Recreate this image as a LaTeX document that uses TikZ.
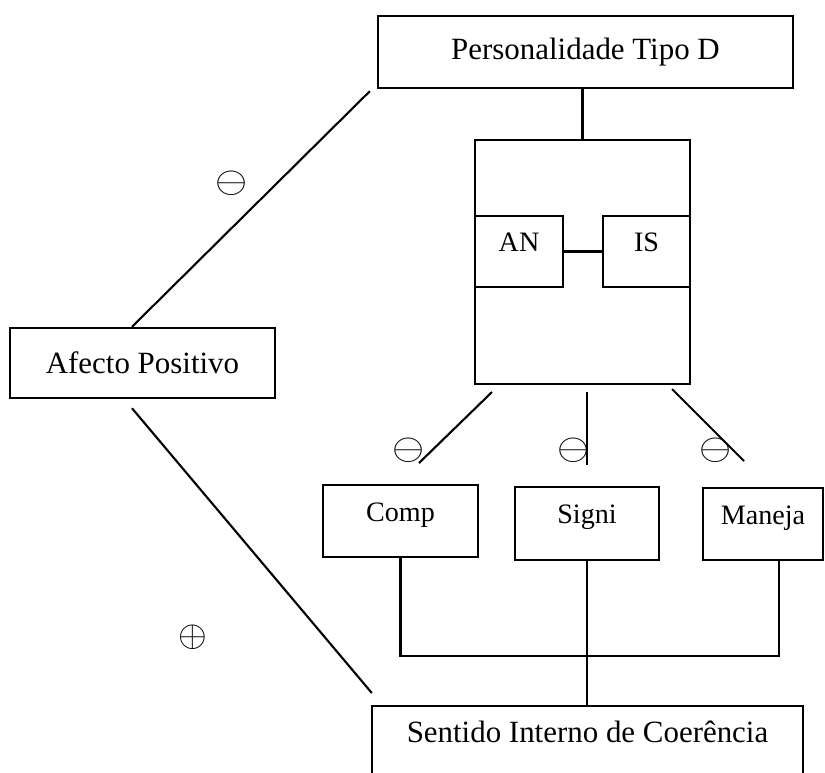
\documentclass[tikz,border=0pt]{standalone}
\usepackage{graphicx}
\usepackage{fontspec}
\setmainfont{Liberation Serif}
\usetikzlibrary{calc}
\usetikzlibrary{positioning}

\tikzset{
    box/.style={draw, rectangle, line width=1.4pt, inner sep=0pt, font=\fontsize{17.6}{20}\selectfont},
    smallbox/.style={box, font=\fontsize{16}{19}\selectfont, text height=0.4cm, text depth=0.4cm},
    sign/.style={inner sep=0pt},
    link/.style={line width=1.2pt},
}
\newcommand{\signminus}{\scalebox{2.35}[2.1]{$\ominus$}}
\newcommand{\signplus}{\scalebox{2.1}{$\oplus$}}

\begin{document}
\begin{tikzpicture}[x=0.02cm, y=-0.02cm]

    \useasboundingbox (0,0) rectangle (825,772);
    \clip (0,0) rectangle (825,772);

    % boxes
    \node[box, minimum width=8.3cm, minimum height=1.44cm] (pers) at (585.5,52) {Personalidade Tipo D};
    \node[box, minimum width=4.3cm, minimum height=4.88cm] (tipod) at (582.5,262) {};
    \node[smallbox, minimum width=1.76cm, minimum height=1.42cm] (an) at (519,251.5) {AN};
    \node[smallbox, minimum width=1.74cm, minimum height=1.42cm] (is) at (646.5,251.5) {IS};
    \node[box, minimum width=5.3cm, minimum height=1.4cm] (afecto) at (142.5,363) {Afecto Positivo};

    % subscales
    \node[smallbox, minimum width=3.1cm, minimum height=1.44cm] (comp) at (400.5,521) {Comp};
    \node[smallbox, minimum width=2.88cm, minimum height=1.46cm] (signi) at (587,523.5) {Signi};
    \node[smallbox, minimum width=2.4cm, minimum height=1.44cm] (maneja) at (763,524) {Maneja};
    \node[box, anchor=north, minimum width=8.62cm, inner ysep=0.2cm,
          text height=0.525cm, text depth=1.5cm] (sentido) at (587.5,705) {Sentido Interno de Coer\^encia};

    % links
    \draw[link] (pers.south -| tipod.north) -- (tipod.north);
    \draw[link] (an) -- (is);
    \draw[link] ($(afecto.north)+(-10.5,0)$) -- ($(pers.south west)+(-7,2)$);
    \draw[link] ($(afecto.south)+(-10.5,9)$) -- ($(sentido.north west)+(1,-12)$);

    % lines to subscales
    \coordinate (c1) at (492,392);
    \coordinate (c2) at (419,463);
    \coordinate (s1) at (587,392);
    \coordinate (s2) at (587,465);
    \coordinate (m1) at (672,389);
    \coordinate (m2) at (744,461);
    \draw[link] (c1) -- (c2);
    \draw[link] (s1) -- (s2);
    \draw[link] (m1) -- (m2);

    % signs
    \node[sign] (neg1) at (232,183) {\signminus};
    \node[sign] (pos1) at (193,637) {\signplus};
    \node[sign] (neg2) at (409,450) {\signminus};
    \node[sign] (neg3) at (574,450) {\signminus};
    \node[sign] (neg4) at (716,450) {\signminus};

    % subscales to sentido
    \draw[link] (comp.south) -- ++(0,98) -| ($(maneja.south)+(16,0)$);
    \draw[link] (signi.south) -- (signi.south |- sentido.north);

\end{tikzpicture}
\end{document}
